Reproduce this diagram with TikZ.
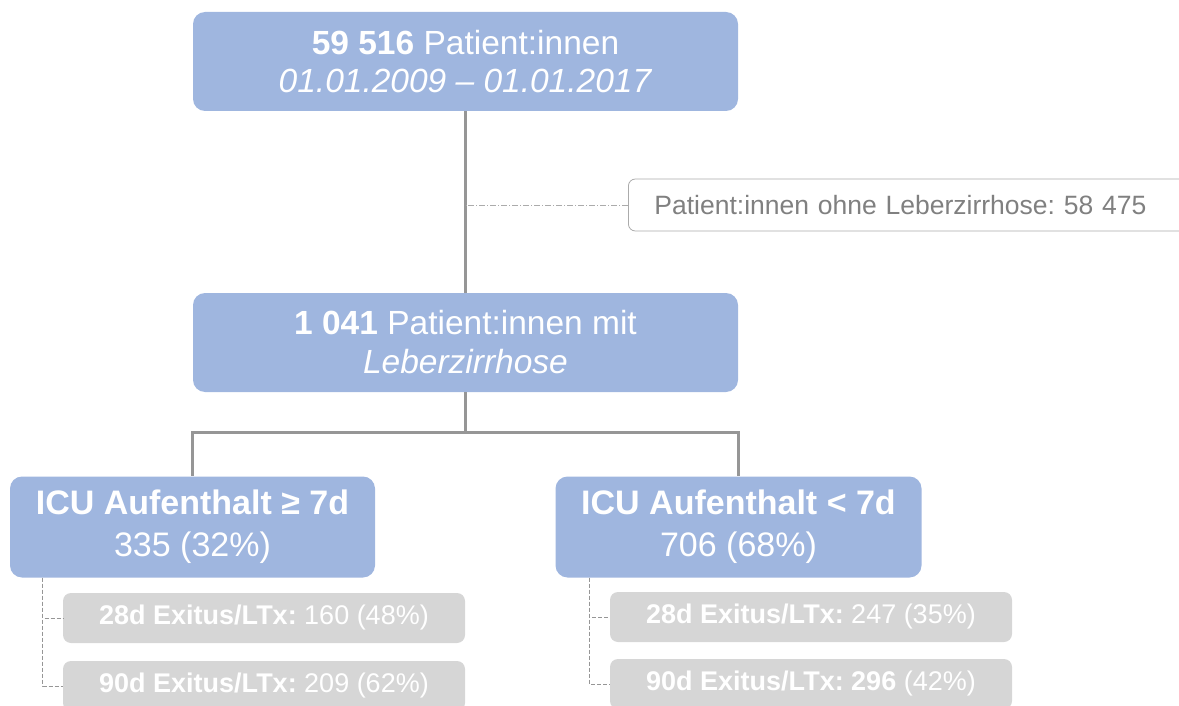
\documentclass[tikz,border=0pt]{standalone}
\usepackage{fontspec}
\setmainfont{Liberation Sans}
\frenchspacing
\definecolor{boxblue}{RGB}{159,182,223}
\definecolor{boxgray}{RGB}{214,214,214}
\definecolor{linegray}{RGB}{150,150,150}
\definecolor{txtgray}{RGB}{128,128,128}
\begin{document}
\begin{tikzpicture}[x=1pt,y=1pt,
  bluebox/.style={fill=boxblue, rounded corners=12pt, text=white, align=center, inner sep=0pt},
  graybox/.style={fill=boxgray, rounded corners=8pt, text=white, minimum width=402pt, minimum height=50pt, inner sep=0pt,
     font=\fontsize{27}{30}\selectfont},
  sidebox/.style={draw=linegray!80, fill=white, rounded corners=7pt, line width=0.8pt, text=txtgray, align=left,
     text width=508pt, inner xsep=26pt, minimum height=52pt, font=\fontsize{26.5}{30}\selectfont},
  mainline/.style={draw=linegray, line width=3pt},
  dashline/.style={draw=linegray, line width=0.8pt, dash pattern=on 4pt off 2pt},
  dotline/.style={draw=linegray!80, line width=0.8pt, dash pattern=on 6pt off 2pt on 1pt off 2pt}]
\useasboundingbox (0,0) rectangle (1179,-706);

\node[bluebox, minimum width=545pt, minimum height=99pt, font=\fontsize{33.5}{38}\selectfont] (top) at (465.5,-61.5)
  {\textbf{59 516} Patient:innen\\ \textit{01.01.2009 – 01.01.2017}};
\node[bluebox, minimum width=545pt, minimum height=99pt, font=\fontsize{33.5}{39}\selectfont] (mid) at (465.5,-342.5)
  {\textbf{1 041} Patient:innen mit\\ \textit{Leberzirrhose}};
\node[sidebox, anchor=west] (side) at (628,-205) {Patient:innen ohne Leberzirrhose: 58 475};

\node[bluebox, minimum width=365pt, minimum height=101pt, font=\fontsize{34}{42}\selectfont] (left) at (192.5,-527)
  {\textbf{ICU Aufenthalt ≥ 7d}\\ 335 (32\%)};
\node[bluebox, minimum width=366pt, minimum height=101pt, font=\fontsize{34}{42}\selectfont] (right) at (738.5,-527)
  {\textbf{ICU Aufenthalt < 7d}\\ 706 (68\%)};

\node[graybox] (l28) at (264,-618) {\textbf{28d Exitus/LTx:} 160 (48\%)};
\node[graybox] (l90) at (264,-686) {\textbf{90d Exitus/LTx:} 209 (62\%)};
\node[graybox] (r28) at (811,-617) {\textbf{28d Exitus/LTx:} 247 (35\%)};
\node[graybox] (r90) at (811,-684) {\textbf{90d Exitus/LTx:} \textbf{296} (42\%)};

\draw[mainline] (top.south) -- (mid.north);
\draw[dotline] (side.west) -- (side.west -| top.south) ++(4,0);
\draw[mainline] (mid.south) -- ++(0,-40) coordinate (branch);
\draw[mainline] (branch) -| (left.north);
\draw[mainline] (branch) -| (right.north);

\coordinate (lc) at ([xshift=33pt]left.south west);
\coordinate (rc) at ([xshift=34pt]right.south west);
\draw[dashline] (lc) |- (l28.west);
\draw[dashline] (lc) |- (l90.west);
\draw[dashline] (rc) |- (r28.west);
\draw[dashline] (rc) |- (r90.west);
\end{tikzpicture}
\end{document}
